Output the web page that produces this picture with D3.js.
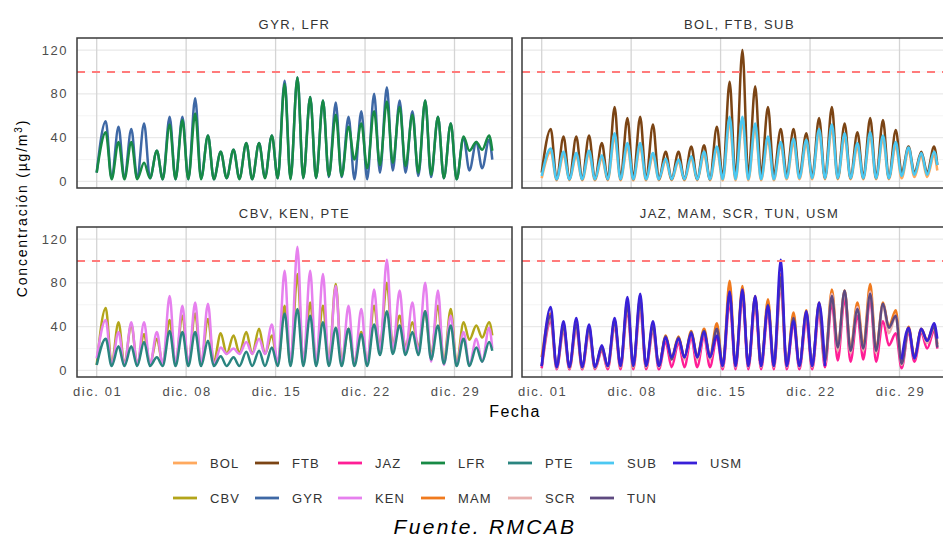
<!DOCTYPE html>
<html>
<head>
<meta charset="utf-8">
<script src="https://cdn.jsdelivr.net/npm/d3@7"></script>
<style>
  body { margin: 0; background: #fff; }
  svg { display: block; font-family: "Liberation Sans", Arial, sans-serif; }
</style>
</head>
<body>
<svg id="chart" width="943" height="537"></svg>
<script>
// Hourly series summarised per day: trough near 04h (lo, 31 days + value at the end)
// and afternoon peak near 17h (pk). In µg/m³.
var BOL_pk = [27,24,23,25,21,40,31,31,23,19,18,21,24,29,53,54,48,37,33,35,34,44,47,40,31,41,38,32,28,23,24];
var BOL_lo = [3,1,1,1,1,1,1,1,1,1,1,1,1,1,1,1,1,1,1,2,2,2,2,2,2,2,2,2,3,4,4,10];
var FTB_pk = [48,41,41,42,35,68,58,59,52,27,27,32,33,50,91,120,87,68,48,48,44,58,68,53,45,58,56,47,32,27,32];
var FTB_lo = [8,2,2,2,2,2,2,2,2,2,2,2,2,2,3,3,5,6,6,6,6,4,3,3,3,3,3,3,8,8,8,15];
var SUB_pk = [30,27,26,28,24,44,35,35,26,21,20,23,27,32,59,59,53,41,36,39,38,48,52,44,35,45,42,36,31,26,27];
var SUB_lo = [5,2,2,2,2,2,2,2,2,2,2,2,2,2,2,2,2,2,2,3,3,3,3,3,3,3,3,3,5,6,6,15];

var GYR_pk = [55,50,48,53,28,59,59,76,42,27,29,35,35,42,92,95,77,74,72,59,64,80,86,74,64,74,59,53,40,36,38];
var GYR_lo = [8,3,3,3,3,2,2,2,3,2,3,3,2,4,3,3,3,3,4,4,2,2,8,10,8,5,4,3,2,10,12,20];
var LFR_pk = [45,36,36,17,28,52,56,62,42,27,29,35,35,42,89,95,77,74,61,50,53,64,73,68,61,74,59,53,41,36,42];
var LFR_lo = [8,2,2,2,3,2,2,2,2,2,3,2,2,3,3,2,3,3,5,5,20,12,15,17,14,8,6,3,2,28,29,28];

var CBV_pk = [57,44,42,33,29,46,50,52,47,34,32,35,38,32,59,88,62,59,79,38,35,59,80,50,44,54,59,56,44,41,44];
var CBV_lo = [5,6,6,6,6,6,6,6,6,8,15,16,15,15,6,6,8,8,8,8,8,8,22,24,22,22,15,8,6,28,30,32];
var KEN_pk = [46,35,44,44,35,68,59,62,61,21,20,26,29,42,91,113,91,88,77,59,56,74,101,73,62,80,73,50,35,29,39];
var KEN_lo = [11,5,5,5,5,5,5,5,5,5,15,15,15,15,5,5,5,5,5,5,5,5,17,17,17,15,8,5,5,5,8,20];
var PTE_pk = [29,22,22,26,12,36,35,35,27,13,12,17,18,21,52,56,50,44,39,38,33,42,54,41,35,54,41,41,29,21,26];
var PTE_lo = [5,4,4,4,4,4,4,4,4,4,4,4,4,4,4,4,4,4,4,4,4,4,14,15,14,14,10,6,4,4,8,18];

var JAZ_pk = [45,36,38,34,18,40,55,57,36,26,25,30,31,30,62,66,60,52,78,42,45,52,62,66,50,66,45,34,35,34,36];
var JAZ_lo = [2,1,1,1,1,1,1,1,1,1,3,3,3,3,1,1,1,1,1,1,1,1,3,9,8,10,8,23,2,8,20,20];
var MAM_pk = [52,42,44,40,22,46,63,66,42,32,31,36,38,43,82,77,68,65,88,53,55,62,74,73,62,79,62,55,40,38,41];
var MAM_lo = [12,3,2,2,2,3,3,3,3,4,12,12,13,13,4,4,4,4,4,4,4,4,8,22,20,22,20,40,8,13,28,24];
var SCR_pk = [48,38,40,36,20,42,58,60,38,30,28,33,34,36,68,70,64,58,80,46,50,58,70,72,58,72,60,50,37,36,39];
var SCR_lo = [4,2,2,2,2,3,3,3,3,3,10,10,10,10,3,3,3,3,3,3,3,3,6,18,16,18,16,34,5,11,25,22];
var TUN_pk = [50,40,42,38,20,44,60,63,40,31,30,35,36,38,70,72,66,60,85,48,52,60,68,73,56,70,61,50,38,37,40];
var TUN_lo = [4,3,3,3,3,4,4,4,4,4,10,12,12,12,4,4,4,4,4,4,4,4,8,21,18,20,18,39,6,12,27,21];
// USM has no data from dic. 23 to dic. 28
var USM_pk = [58,45,48,42,23,48,67,70,45,30,29,34,35,32,72,74,68,59,101,45,54,62,null,null,null,null,null,null,39,38,43];
var USM_lo = [4,3,3,3,3,4,4,4,4,4,12,12,12,12,4,4,4,4,4,4,4,4,4,null,null,null,null,null,10,11,27,29];

var stations = ["BOL","CBV","FTB","GYR","JAZ","KEN","LFR","MAM","PTE","SCR","SUB","TUN","USM"];
var colours  = ["#FFA95E","#B3A51A","#7B4414","#3E68A5","#FF1E96","#E680EE","#178A45",
                "#F07A1E","#2A8580","#E8B0AE","#4CC8F2","#5E4A80","#3820D8"];
var panelTitles = ["GYR, LFR", "BOL, FTB, SUB", "CBV, KEN, PTE", "JAZ, MAM, SCR, TUN, USM"];
var panelStations = [["GYR","LFR"], ["BOL","FTB","SUB"], ["CBV","KEN","PTE"], ["JAZ","MAM","SCR","TUN","USM"]];
var tickDays = [1, 8, 15, 22, 29];
var tickLabels = ["dic. 01","dic. 08","dic. 15","dic. 22","dic. 29"];
var yTicks = [0, 40, 80, 120];
var yMinor = [20, 60, 100];
var limit = 100;

var lows = {BOL:BOL_lo, CBV:CBV_lo, FTB:FTB_lo, GYR:GYR_lo, JAZ:JAZ_lo, KEN:KEN_lo, LFR:LFR_lo,
            MAM:MAM_lo, PTE:PTE_lo, SCR:SCR_lo, SUB:SUB_lo, TUN:TUN_lo, USM:USM_lo};
var peaks = {BOL:BOL_pk, CBV:CBV_pk, FTB:FTB_pk, GYR:GYR_pk, JAZ:JAZ_pk, KEN:KEN_pk, LFR:LFR_pk,
             MAM:MAM_pk, PTE:PTE_pk, SCR:SCR_pk, SUB:SUB_pk, TUN:TUN_pk, USM:USM_pk};
var colour = d3.scaleOrdinal().domain(stations).range(colours);

var start = new Date(2019, 11, 1);
var LOW_HOUR = 4, PEAK_HOUR = 17, LAST_HOUR = 743;
function at(h) { return d3.timeHour.offset(start, h); }

function series(name) {
  var lo = lows[name], pk = peaks[name], pts = [];
  for (var d = 0; d < pk.length; d++) {
    pts.push({t: at(d === 0 ? 0 : d * 24 + LOW_HOUR), v: lo[d]});
    pts.push({t: at(d * 24 + PEAK_HOUR), v: pk[d]});
  }
  pts.push({t: at(LAST_HOUR), v: lo[pk.length]});
  return pts;
}

var W = 435, H = 150;
var panelX = [77, 522, 77, 522];
var panelY = [38, 38, 227, 227];
var pad = 37; // hours of expansion each side

var x = d3.scaleTime().domain([at(-pad), at(LAST_HOUR + pad)]).range([0, W]);
var y = d3.scaleLinear().domain([-6, 131]).range([H, 0]);

var line = d3.line()
  .defined(function(d) { return d.v != null; })
  .x(function(d) { return x(d.t); })
  .y(function(d) { return y(d.v); })
  .curve(d3.curveMonotoneX);

var svg = d3.select("#chart");
svg.append("rect").attr("width", 943).attr("height", 537).attr("fill", "#fff");

panelTitles.forEach(function(title, i) {
  var g = svg.append("g").attr("transform", "translate(" + panelX[i] + "," + panelY[i] + ")");
  var clipId = "clip" + i;
  g.append("clipPath").attr("id", clipId).append("rect").attr("width", W).attr("height", H);

  g.selectAll(".ymin").data(yMinor).enter().append("line")
    .attr("x1", 0).attr("x2", W).attr("y1", y).attr("y2", y)
    .attr("stroke", "#f3f3f3").attr("stroke-width", 0.8);
  g.selectAll(".ymaj").data(yTicks).enter().append("line")
    .attr("x1", 0).attr("x2", W).attr("y1", y).attr("y2", y)
    .attr("stroke", "#e9e9e9").attr("stroke-width", 1.3);
  g.selectAll(".xmaj").data(tickDays).enter().append("line")
    .attr("x1", function(d) { return x(new Date(2019, 11, d)); })
    .attr("x2", function(d) { return x(new Date(2019, 11, d)); })
    .attr("y1", 0).attr("y2", H)
    .attr("stroke", "#d4d4d4").attr("stroke-width", 1.3);

  var lg = g.append("g").attr("clip-path", "url(#" + clipId + ")");
  panelStations[i].forEach(function(name) {
    lg.append("path")
      .datum(series(name))
      .attr("d", line)
      .attr("fill", "none")
      .attr("stroke", colour(name))
      .attr("stroke-width", 2.5)
      .attr("stroke-linejoin", "round");
  });

  g.append("line")
    .attr("x1", 0).attr("x2", W).attr("y1", y(limit)).attr("y2", y(limit))
    .attr("stroke", "#ff7b7b").attr("stroke-width", 1.9)
    .attr("stroke-dasharray", "8,7");

  g.append("rect").attr("width", W).attr("height", H)
    .attr("fill", "none").attr("stroke", "#3a3a3a").attr("stroke-width", 1.5);

  g.append("text")
    .attr("x", W / 2).attr("y", -9)
    .attr("text-anchor", "middle")
    .style("font-size", "13px").style("letter-spacing", "1.5px")
    .attr("fill", "#333").text(title);

  if (i % 2 === 0) {
    g.selectAll(".ylab").data(yTicks).enter().append("text")
      .attr("x", -9).attr("y", function(d) { return y(d) + 4.5; })
      .attr("text-anchor", "end")
      .style("font-size", "13px").style("letter-spacing", "1.5px")
      .attr("fill", "#4d4d4d").text(function(d) { return d; });
  }
  if (i >= 2) {
    g.selectAll(".xlab").data(tickDays).enter().append("text")
      .attr("x", function(d) { return x(new Date(2019, 11, d)) + 1; })
      .attr("y", H + 19)
      .attr("text-anchor", "middle")
      .style("font-size", "13px").style("letter-spacing", "1.6px")
      .attr("fill", "#4d4d4d")
      .text(function(d, k) { return tickLabels[k]; });
  }
});

svg.append("text")
  .attr("x", 515).attr("y", 417).attr("text-anchor", "middle")
  .style("font-size", "16px").style("letter-spacing", "1.4px")
  .attr("fill", "#000").text("Fecha");

var yt = svg.append("text")
  .attr("transform", "translate(27,208) rotate(-90)")
  .attr("text-anchor", "middle")
  .style("font-size", "14px").style("letter-spacing", "1.8px")
  .attr("fill", "#000");
yt.append("tspan").text("Concentración (µg/m");
yt.append("tspan").attr("dy", -5).style("font-size", "10px").text("3");
yt.append("tspan").attr("dy", 5).text(")");

// legend: two rows, filled column by column
var legendCols = [173, 255, 338, 421, 508, 590, 673];
var legendRows = [463, 498];
var leg = svg.append("g");
stations.forEach(function(name, k) {
  var cx = legendCols[Math.floor(k / 2)], cy = legendRows[k % 2];
  leg.append("line")
    .attr("x1", cx).attr("x2", cx + 24).attr("y1", cy).attr("y2", cy)
    .attr("stroke", colour(name)).attr("stroke-width", 2.8);
  leg.append("text")
    .attr("x", cx + 37).attr("y", cy + 4.5)
    .style("font-size", "13px").style("letter-spacing", "1.1px")
    .attr("fill", "#333").text(name);
});

svg.append("text")
  .attr("x", 485).attr("y", 534).attr("text-anchor", "middle")
  .style("font-size", "21px").style("font-style", "italic").style("letter-spacing", "2.3px")
  .attr("fill", "#000").text("Fuente. RMCAB");
</script>
</body>
</html>
